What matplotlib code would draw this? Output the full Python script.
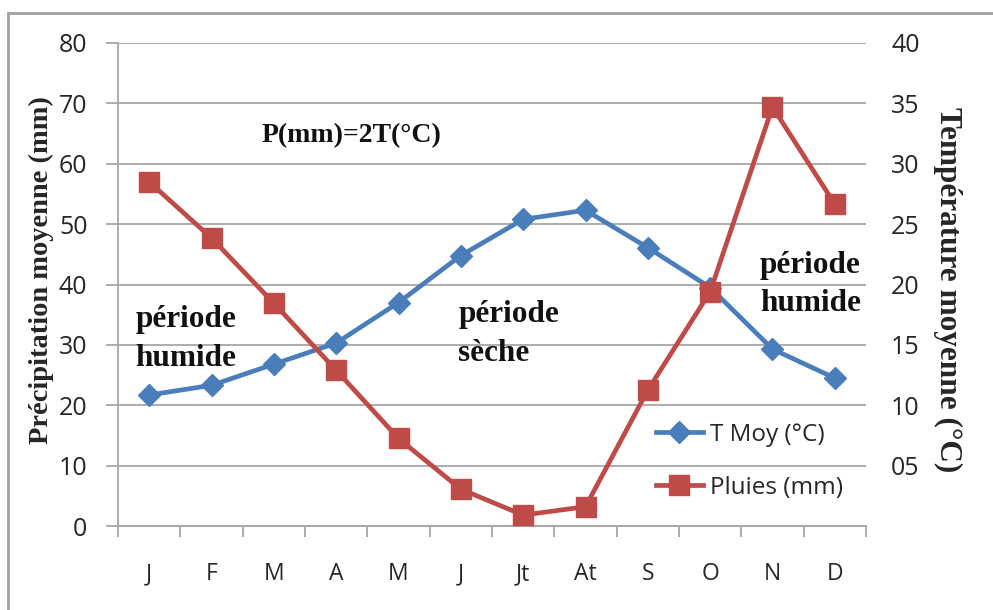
import matplotlib
matplotlib.use("Agg")
import matplotlib.pyplot as plt
from matplotlib.patches import Rectangle
import numpy as np

# data
months = ["J", "F", "M", "A", "M", "J", "Jt", "At", "S", "O", "N", "D"]
pluies = [57.0, 47.7, 36.9, 25.8, 14.5, 6.1, 1.8, 3.2, 22.5, 38.8, 69.4, 53.3]
t_moy = [10.85, 11.65, 13.4, 15.15, 18.5, 22.4, 25.4, 26.15, 23.05, 19.75, 14.65, 12.25]
left_ticks = [0, 10, 20, 30, 40, 50, 60, 70, 80]
right_ticks = [5, 10, 15, 20, 25, 30, 35, 40]
right_labels = ["05", "10", "15", "20", "25", "30", "35", "40"]

blue = "#4A7EBB"
red = "#BE4B48"
grid_c = "#A6A6A6"
txt_c = "#262626"
sans = "Open Sans"
serif = "Liberation Serif"

fig = plt.figure(figsize=(9.93, 6.10), dpi=100)
ax = fig.add_axes([118 / 993, 1 - 526 / 610, 748 / 993, 483 / 610])
ax2 = ax.twinx()

x = np.arange(len(months))

# temperature on the secondary axis, underneath
ax2.plot(x, t_moy, color=blue, lw=3.4, marker="D", ms=11.5, mec=blue, mfc=blue,
         label="T Moy (°C)", zorder=3)
ax2.set_ylim(0, 40)
ax2.set_yticks(right_ticks)
ax2.set_yticklabels(right_labels)
ax2.yaxis.grid(True, color=grid_c, lw=1.3)
ax2.set_axisbelow(True)
ax2.tick_params(axis="y", length=0, pad=18, labelsize=18, labelcolor=txt_c)
for lab in ax2.get_yticklabels():
    lab.set_fontfamily(sans)

# precipitation on the primary axis, drawn on top
ax.set_zorder(ax2.get_zorder() + 1)
ax.patch.set_visible(False)
ax.plot(x, pluies, color=red, lw=3.4, marker="s", ms=14, mec=red, mfc=red,
        label="Pluies (mm)", zorder=4)
ax.set_ylim(0, 80)
ax.set_xlim(-0.5, len(months) - 0.5)
ax.set_yticks(left_ticks)
ax.tick_params(axis="y", length=9, width=1.3, color=grid_c, pad=13,
               labelsize=18, labelcolor=txt_c)
ax.set_xticks(x)
ax.set_xticklabels(months)
ax.set_xticks(np.arange(-0.5, len(months)), minor=True)
ax.tick_params(axis="x", which="major", length=0, pad=26, labelsize=16.5,
               labelcolor=txt_c)
ax.tick_params(axis="x", which="minor", length=8, width=1.3, color=grid_c)
for lab in ax.get_yticklabels() + ax.get_xticklabels():
    lab.set_fontfamily(sans)

for a in (ax, ax2):
    for s in ("top", "right"):
        a.spines[s].set_visible(False)
    a.spines["left"].set_color(grid_c)
    a.spines["left"].set_linewidth(1.3)
    a.spines["bottom"].set_color(grid_c)
    a.spines["bottom"].set_linewidth(1.3)
ax2.spines["left"].set_visible(False)

ax.set_ylabel("Précipitation moyenne (mm)", fontfamily=serif, fontweight="bold",
              fontsize=20.5, color=txt_c)
ax.yaxis.set_label_coords(-0.085, 0.53)
ax2.set_ylabel("Température moyenne (°C)", fontfamily=serif, fontweight="bold",
               fontsize=22.5, color=txt_c, rotation=270)
ax2.yaxis.set_label_coords(1.128, 0.49)

# annotations
tkw = dict(fontfamily=serif, fontweight="bold", color="#111111", zorder=5)
ax.text(3.25, 64.7, "P(mm)=2T(°C)", ha="center", va="center", fontsize=20, **tkw)
ax.text(-0.22, 30.9, "période\nhumide", ha="left", va="center", fontsize=22.5,
        linespacing=1.45, **tkw)
ax.text(4.96, 31.8, "période\nsèche", ha="left", va="center", fontsize=22.5,
        linespacing=1.45, **tkw)
ax.text(9.8, 40.0, "période\nhumide", ha="left", va="center", fontsize=22.5,
        linespacing=1.45, **tkw)

h1, l1 = ax2.get_legend_handles_labels()
h2, l2 = ax.get_legend_handles_labels()
leg = ax.legend(h1 + h2, l1 + l2, loc="upper left",
                bbox_to_anchor=(646 / 993, 1 - 413 / 610),
                bbox_transform=fig.transFigure, frameon=False,
                prop={"family": sans, "size": 17.5}, handlelength=1.95,
                handletextpad=0.3, labelspacing=1.2, borderaxespad=0)
for t in leg.get_texts():
    t.set_color(txt_c)

# outer frame
fig.patches.append(Rectangle((8 / 993, -0.05), 1.1, (610 - 13) / 610 + 0.05,
                             transform=fig.transFigure, fill=False,
                             ec="#A0A0A0", lw=2))

fig.savefig("out.png", dpi=100)
